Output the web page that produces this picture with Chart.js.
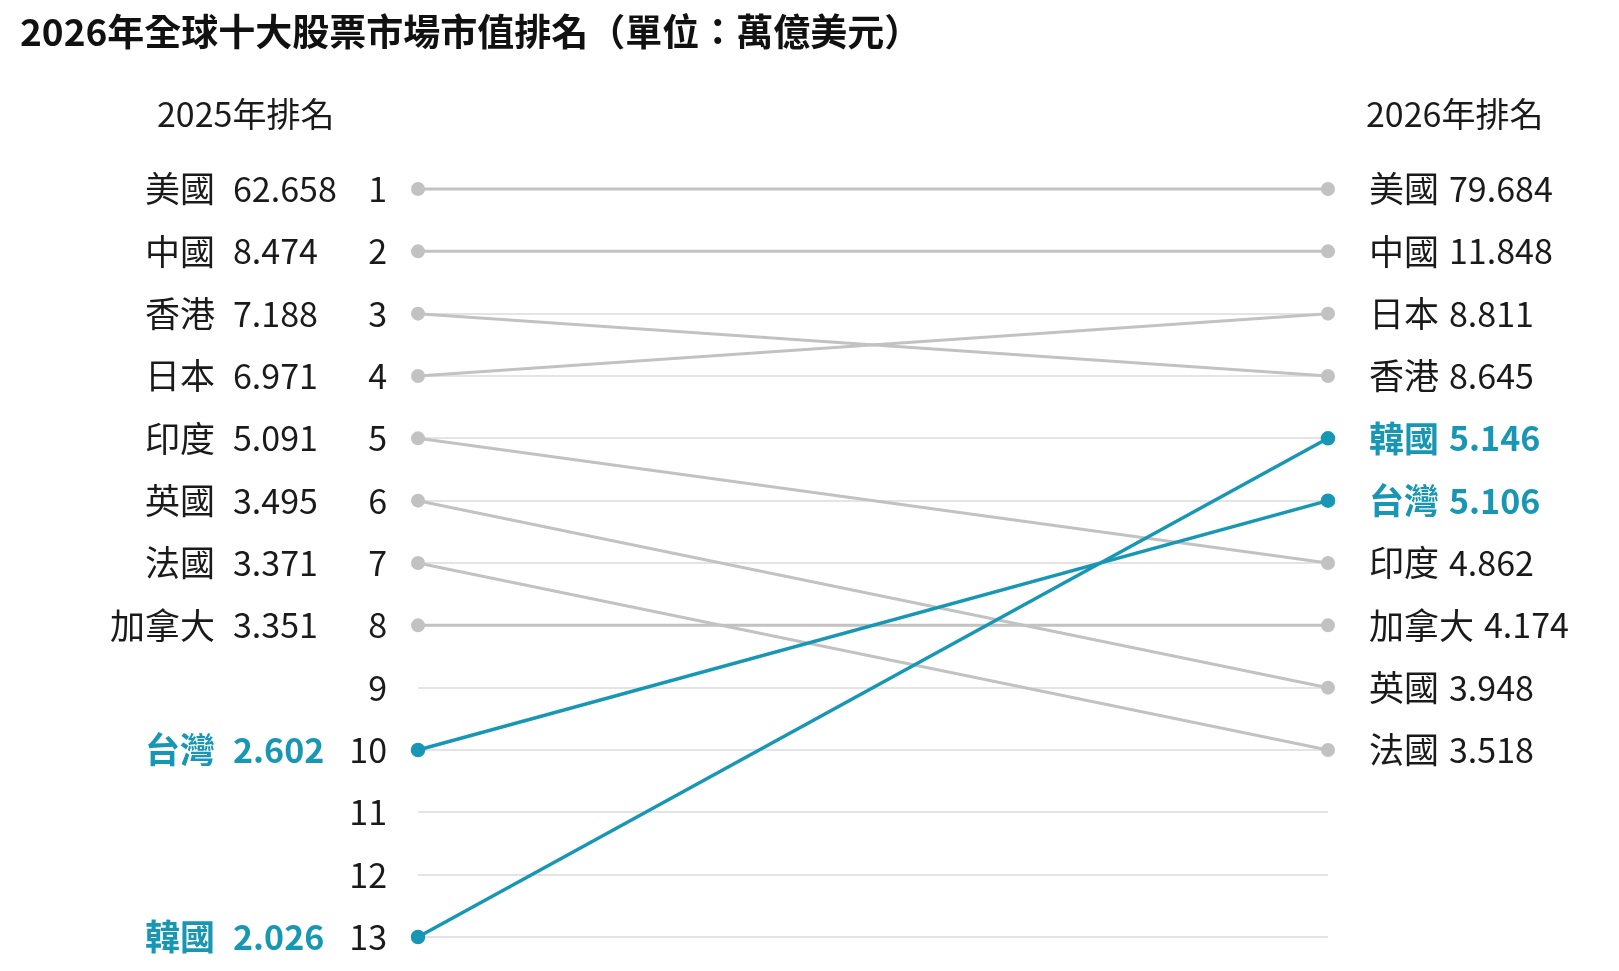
<!DOCTYPE html>
<html lang="zh-Hant">
<head>
  <meta charset="UTF-8" />
  <title>2026年全球十大股票市場市值排名</title>
  <script src="https://cdn.jsdelivr.net/npm/chart.js"></script>
  <style>
    body {
      margin: 0;
      background: #ffffff;
      font-family: "Noto Sans CJK TC", "Noto Sans", sans-serif;
    }
    #wrap {
      position: relative;
      width: 1619px;
      height: 971px;
    }
    h1 {
      position: absolute;
      left: 20px;
      top: 8px;
      margin: 0;
      font-size: 37px;
      line-height: 44px;
      font-weight: 700;
      color: #111;
    }
    canvas {
      position: absolute;
      left: 0;
      top: 0;
    }
  </style>
</head>
<body>
  <div id="wrap">
    <canvas id="rankChart" width="1619" height="971"></canvas>
    <h1>2026年全球十大股票市場市值排名（單位：萬億美元）</h1>
  </div>

  <script>
    // data
    const countries = ['美國', '中國', '香港', '日本', '印度', '英國', '法國', '加拿大', '台灣', '韓國'];
    const rank2025 = [1, 2, 3, 4, 5, 6, 7, 8, 10, 13];
    const rank2026 = [1, 2, 4, 3, 7, 9, 10, 8, 6, 5];
    const value2025 = ['62.658', '8.474', '7.188', '6.971', '5.091', '3.495', '3.371', '3.351', '2.602', '2.026'];
    const value2026 = ['79.684', '11.848', '8.645', '8.811', '4.862', '3.948', '3.518', '4.174', '5.106', '5.146'];
    const highlight = ['台灣', '韓國'];
    const rankTicks = [1, 2, 3, 4, 5, 6, 7, 8, 9, 10, 11, 12, 13];
    const header2025 = '2025年排名';
    const header2026 = '2026年排名';

    const TEAL = '#1797b4';
    const GREY = '#c2c2c2';
    const FONT = '"Noto Sans CJK TC", "Noto Sans", sans-serif';

    const datasets = countries.map((c, i) => {
      const hot = highlight.includes(c);
      return {
        label: c,
        data: [{ x: 0, y: rank2025[i] }, { x: 1, y: rank2026[i] }],
        borderColor: hot ? TEAL : GREY,
        backgroundColor: hot ? TEAL : GREY,
        borderWidth: hot ? 3.5 : 3,
        pointRadius: 5.5,
        pointHoverRadius: 5.5,
        clip: false,
        order: hot ? 0 : 1
      };
    });

    // country names + values on both sides, and the two column headers
    const sideLabels = {
      id: 'sideLabels',
      afterDraw(chart) {
        const { ctx, chartArea } = chart;
        const y = chart.scales.y;
        ctx.save();
        ctx.textBaseline = 'middle';

        countries.forEach((c, i) => {
          const hot = highlight.includes(c);
          const w = hot ? 'bold ' : '';
          ctx.fillStyle = hot ? TEAL : '#1a1a1a';

          const yl = y.getPixelForValue(rank2025[i]);
          ctx.font = w + '35px ' + FONT;
          ctx.textAlign = 'right';
          ctx.fillText(c, chartArea.left - 203, yl);
          ctx.font = w + '34px ' + FONT;
          ctx.textAlign = 'left';
          ctx.fillText(value2025[i], chartArea.left - 185, yl);

          const yr = y.getPixelForValue(rank2026[i]);
          const xr = chartArea.right + 41;
          ctx.font = w + '35px ' + FONT;
          ctx.fillText(c, xr, yr);
          const nw = ctx.measureText(c).width;
          ctx.font = w + '34px ' + FONT;
          ctx.fillText(value2026[i], xr + nw + 10, yr);
        });

        ctx.fillStyle = '#1a1a1a';
        ctx.font = '34px ' + FONT;
        ctx.textAlign = 'left';
        const yh = y.getPixelForValue(1) - 75;
        ctx.fillText(header2025, 157, yh);
        ctx.fillText(header2026, chartArea.right + 38, yh);
        ctx.restore();
      }
    };

    const chart = new Chart(document.getElementById('rankChart'), {
      type: 'line',
      data: { datasets },
      options: {
        responsive: false,
        animation: false,
        events: [],
        layout: { padding: { left: 0, right: 291, top: 189, bottom: 34 } },
        plugins: {
          legend: { display: false },
          tooltip: { enabled: false }
        },
        scales: {
          x: {
            type: 'linear',
            min: 0,
            max: 1,
            display: false
          },
          y: {
            type: 'linear',
            reverse: true,
            min: 1,
            max: 13,
            afterBuildTicks(scale) {
              scale.ticks = rankTicks.map(v => ({ value: v }));
            },
            afterFit(scale) {
              scale.width = 418;
              // tick padding is horizontal only here, keep it out of the vertical space
              scale.paddingTop = 10;
              scale.paddingBottom = 10;
            },
            border: { display: false },
            grid: {
              color: '#e4e4e4',
              lineWidth: 2,
              drawTicks: false
            },
            ticks: {
              padding: 31,
              color: '#1a1a1a',
              font: { family: FONT, size: 34 }
            }
          }
        }
      },
      plugins: [sideLabels]
    });
  </script>
</body>
</html>
